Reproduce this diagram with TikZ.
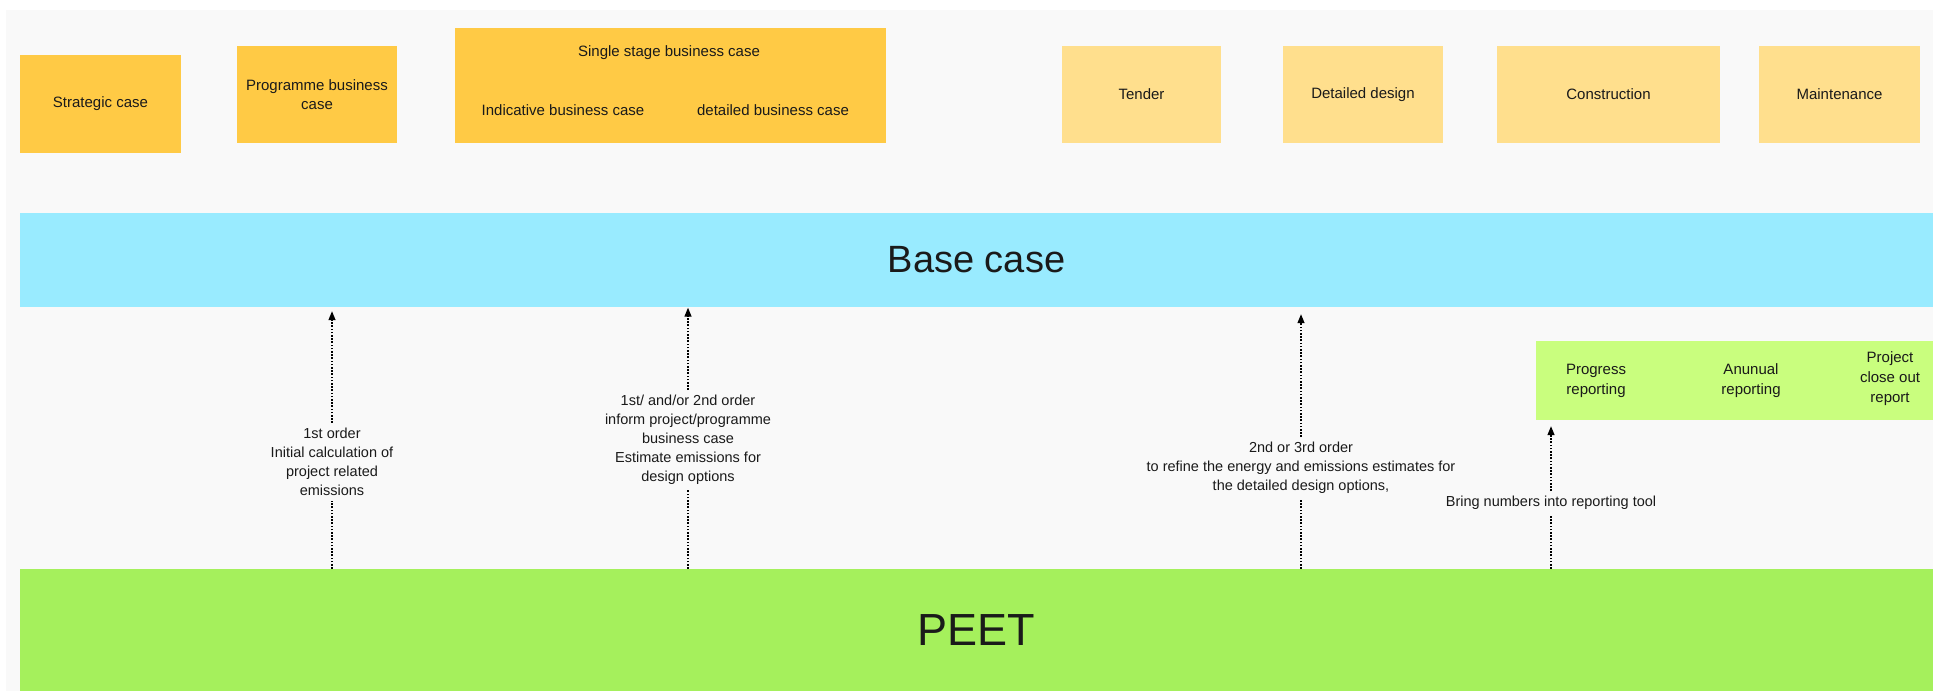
\documentclass[tikz,border=0pt]{standalone}
\usepackage{fontspec}
\setmainfont{Liberation Sans}
\usetikzlibrary{arrows.meta}
\definecolor{bgray}{HTML}{F9F9F9}
\definecolor{caseor}{HTML}{FFCA45}
\definecolor{stagey}{HTML}{FFDF8D}
\definecolor{basec}{HTML}{99EBFF}
\definecolor{peetg}{HTML}{A5F05C}
\definecolor{repg}{HTML}{C9FE7E}
\definecolor{txt}{HTML}{1A1A1A}
\tikzset{
  box/.style={draw=none, inner sep=0pt, align=center, text=txt,
    font=\fontsize{15}{19}\selectfont},
  casebox/.style={box, fill=caseor},
  stagebox/.style={box, fill=stagey},
  plain/.style={inner sep=0pt, align=center, text=txt,
    font=\fontsize{15}{19}\selectfont},
  lbl/.style={inner xsep=2pt, inner ysep=5pt, align=center, text=txt,
    font=\fontsize{14.5}{19}\selectfont},
  dotl/.style={draw=black, line width=1.3pt, dash pattern=on 1.6pt off 1.6pt},
  dotarr/.style={dotl, -{Triangle[length=9pt,width=7pt]}},
}
\begin{document}
\begin{tikzpicture}[x=1pt,y=-1pt]
\useasboundingbox (0,0) rectangle (1933,691);
\fill[white] (0,0) rectangle (1933,691);
\fill[bgray] (6,10) rectangle (1933,691);

% top row
\node[casebox, minimum width=161pt, minimum height=98pt] (strat) at (100.5,104) {Strategic case};
\node[casebox, minimum width=160pt, minimum height=97pt] (prog) at (317,94.5) {Programme business\\case};
\node[casebox, minimum width=431pt, minimum height=115pt] (single) at (670.5,85.5) {};
\node[plain] (sstitle) at (669,53) {Single stage business case};
\node[plain] (indic) at (563,110) {Indicative business case};
\node[plain] (detbc) at (773,110) {detailed business case};
\node[stagebox, minimum width=159pt, minimum height=97pt] (tender) at (1141.5,94.5) {Tender};
\node[stagebox, minimum width=160pt, minimum height=97pt] (ddesign) at (1363,94.5) {Detailed design};
\node[stagebox, minimum width=223pt, minimum height=97pt] (constr) at (1608.5,94.5) {Construction};
\node[stagebox, minimum width=161pt, minimum height=97pt] (maint) at (1839.5,94.5) {Maintenance};

% bands
\node[box, fill=basec, minimum width=1913pt, minimum height=94pt, font=\fontsize{38}{40}\selectfont] (base) at (976.5,260) {Base case};
\node[box, fill=peetg, minimum width=1913pt, minimum height=122pt, font=\fontsize{45}{48}\selectfont] (peet) at (976.5,630) {PEET};

% reporting
\node[box, fill=repg, minimum width=397pt, minimum height=79pt] (report) at (1734.5,380.5) {};
\node[plain, font=\fontsize{15}{20}\selectfont] (progrep) at (1596,380.5) {Progress\\reporting};
\node[plain, font=\fontsize{15}{20}\selectfont] (annrep) at (1751,380.5) {Anunual\\reporting};
\node[plain, font=\fontsize{15}{20}\selectfont] (closerep) at (1890,379) {Project\\close out\\report};

% arrow labels
\node[lbl] (l1) at (332,462) {1st order\\Initial calculation of\\project related\\emissions};
\node[lbl] (l2) at (688,440) {1st/ and/or 2nd order\\inform project/programme\\business case\\Estimate emissions for\\design options};
\node[lbl] (l3) at (1301,468) {2nd or 3rd order\\to refine the energy and emissions estimates for\\the detailed design options,};
\node[lbl] (l4) at (1551,503) {Bring numbers into reporting tool};

% connectors
\draw[dotl] (peet.north -| l1) -- (l1.south);
\draw[dotarr, shorten >=4pt] (l1.north) -- (base.south -| l1);
\draw[dotl] (peet.north -| l2) -- (l2.south);
\draw[dotarr, shorten >=0.5pt] (l2.north) -- (base.south -| l2);
\draw[dotl] (peet.north -| l3) -- (l3.south);
\draw[dotarr, shorten >=7pt] (l3.north) -- (base.south -| l3);
\draw[dotl] (peet.north -| l4) -- (l4.south);
\draw[dotarr, shorten >=6pt] (l4.north) -- (report.south -| l4);
\end{tikzpicture}
\end{document}
